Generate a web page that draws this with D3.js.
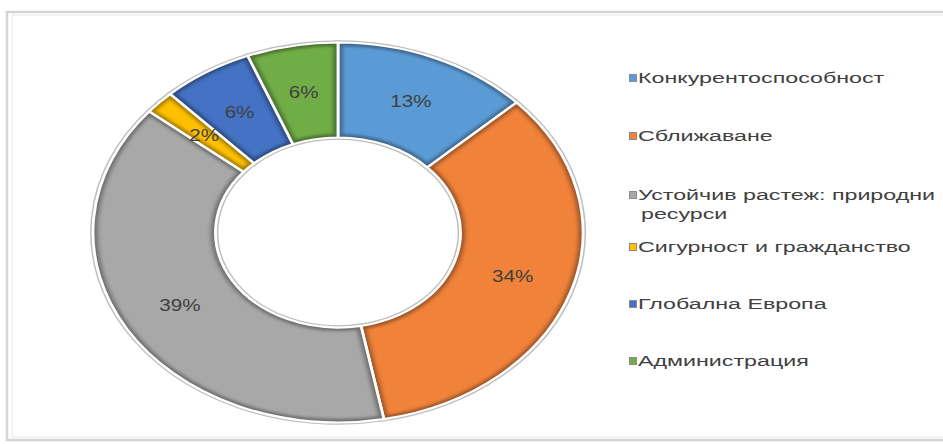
<!DOCTYPE html>
<html><head><meta charset="utf-8">
<script src="https://cdnjs.cloudflare.com/ajax/libs/d3/7.8.5/d3.min.js"></script>
<style>html,body{margin:0;padding:0;background:#fff;}svg{display:block;}</style>
</head><body>
<script>
const categories = ["Конкурентоспособност","Сближаване","Устойчив растеж: природни ресурси","Сигурност и гражданство","Глобална Европа","Администрация"];
const legendLines = [["Конкурентоспособност"],["Сближаване"],["Устойчив растеж: природни","ресурси"],["Сигурност и гражданство"],["Глобална Европа"],["Администрация"]];
const values = [13,34,39,2,6,6];
const colors = ["#5B9BD5","#F0823A","#A8A8A8","#FFC000","#4472C4","#70AD47"];

const W = 943, H = 444;
const svg = d3.select("body").append("svg").attr("width", W).attr("height", H);
const defs = svg.append("defs");
defs.append("filter").attr("id","soft").attr("x","-10%").attr("y","-10%").attr("width","120%").attr("height","120%")
  .append("feGaussianBlur").attr("stdDeviation",1.6);

// frame
svg.append("rect").attr("x",7).attr("y",12).attr("width",980).attr("height",428)
  .attr("fill","none").attr("stroke","#d4d4d4").attr("stroke-width",2.5);
svg.append("rect").attr("x",12).attr("y",15).attr("width",980).attr("height",422)
  .attr("fill","none").attr("stroke","#ececec").attr("stroke-width",1.2);

const cx = 338, cy = 232.5, R = 190, sx = 245/190;
const pie = d3.pie().value(d => d).sort(null);
const arcs = pie(values);
const arc = d3.arc().innerRadius(R*0.5).outerRadius(R);
const labelArc = d3.arc().innerRadius(R*0.75).outerRadius(R*0.75);

arcs.forEach((d,i) => {
  defs.append("clipPath").attr("id","clip"+i).append("path").attr("d", arc(d));
});

const g = svg.append("g").attr("transform", `translate(${cx},${cy}) scale(${sx},1)`);
g.selectAll("path.under").data(arcs).join("path").attr("class","under")
  .attr("d", arc).attr("fill","none").attr("stroke","#bdbdbd").attr("stroke-width",4.5);
const sg = g.selectAll("g.slice").data(arcs).join("g").attr("class","slice");
sg.append("path").attr("d", arc).attr("fill", (d,i) => colors[i]);
sg.append("g").attr("clip-path", (d,i) => `url(#clip${i})`)
  .append("path").attr("d", arc).attr("fill","none").attr("stroke","#000").attr("stroke-opacity",0.35)
  .attr("stroke-width",7).attr("filter","url(#soft)");
sg.append("path").attr("d", arc).attr("fill","none").attr("stroke","#fff").attr("stroke-width",2.2);

svg.append("g").selectAll("text").data(arcs).join("text")
  .attr("transform", d => { const c = labelArc.centroid(d); return `translate(${cx + c[0]*sx},${cy + c[1]}) scale(${sx},1)`; })
  .attr("text-anchor","middle").attr("dy","0.36em")
  .attr("font-family","Liberation Sans, Arial, sans-serif").attr("font-size",16)
  .attr("fill","#404040").text(d => d.data + "%");

// legend
const rowY = [78, 136, 195, 247, 304, 361];
const lg = svg.append("g");
legendLines.forEach((lines, i) => {
  lg.append("rect").attr("x",629.5).attr("y",rowY[i]-3.5).attr("width",7).attr("height",7)
    .attr("fill",colors[i]).attr("stroke","#8c8c8c").attr("stroke-width",1);
  lines.forEach((t, j) => {
    lg.append("text").attr("transform", `translate(${j===0?638:641},${rowY[i] + j*19}) scale(1.55,1)`)
      .attr("dy","0.36em").attr("font-family","Liberation Sans, Arial, sans-serif").attr("font-size",15)
      .attr("fill","#404040").text(t);
  });
});
</script>
</body></html>
